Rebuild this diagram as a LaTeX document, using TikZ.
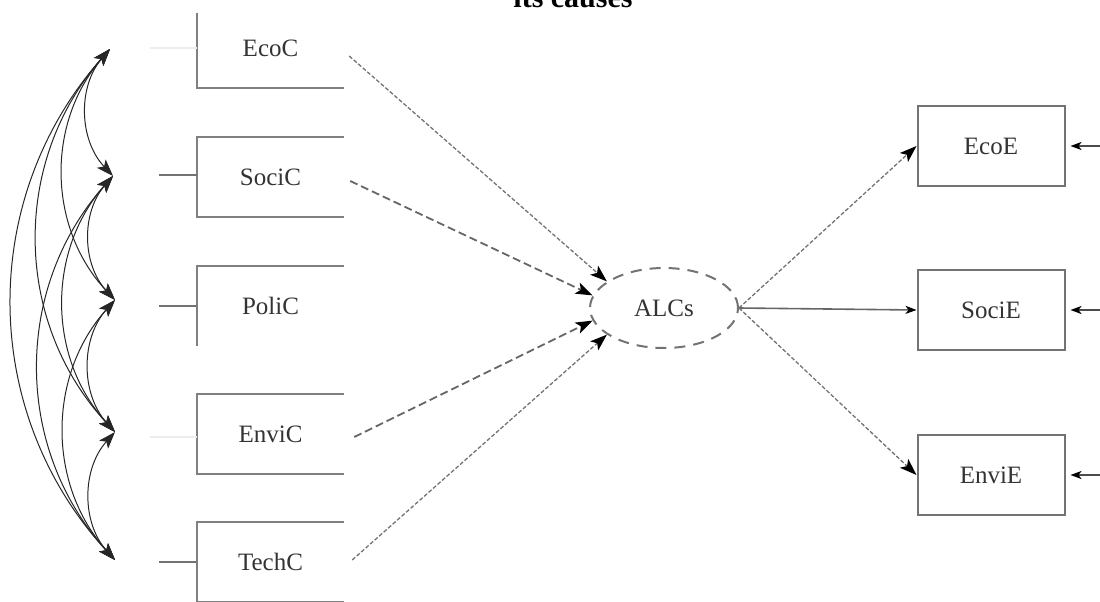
\documentclass[tikz,border=0pt]{standalone}
\usepackage{fontspec}
\setmainfont{Liberation Serif}
\usetikzlibrary{arrows.meta,calc,shapes.geometric}
\begin{document}
\begin{tikzpicture}[x=1pt,y=-1pt,
  tipbig/.tip={Stealth[length=17pt,width=12pt,inset=4pt]},
  tipsmall/.tip={Stealth[length=11pt,width=8pt,inset=3pt]},
  boxline/.style={draw=black!50,line width=2pt},
  lbl/.style={font=\fontsize{25}{27}\selectfont,text=black!80},
  vbox/.style={minimum width=147pt,minimum height=80pt,inner sep=0pt,lbl},
  rbox/.style={vbox,draw=black!55,line width=2pt},
  stub/.style={draw=black!55,line width=2pt},
  faintstub/.style={draw=black!7,line width=2pt},
  pathd/.style={draw=black!55,line width=1.3pt,dash pattern=on 4pt off 2pt,-{tipbig[black]}},
  pathdd/.style={draw=black!60,line width=1.8pt,dash pattern=on 8pt off 4pt,-{tipbig[black]}},
  paths/.style={draw=black!60,line width=1.6pt,-{tipsmall[black]}},
  err/.style={draw=black!70,line width=1.8pt,-{tipsmall[black]},shorten >=5pt},
  cov/.style={draw=black!85,line width=1pt,{tipbig}-{tipbig}}]
\useasboundingbox (0,0) rectangle (1100,602);
% title (cut at the top, as in the reference)
\node[anchor=base,font=\bfseries\fontsize{30}{32}\selectfont,inner sep=0pt] (title) at (573,8) {its causes};
% left boxes (open on the right)
\node[vbox] (ecoc) at (270.5,48) {EcoC};
\node[vbox] (socic) at (270.5,177) {SociC};
\node[vbox] (polic) at (270.5,306) {PoliC};
\node[vbox] (envic) at (270.5,434) {EnviC};
\node[vbox] (techc) at (270.5,562) {TechC};
\draw[boxline] ($(ecoc.north west)+(0,5)$) -- (ecoc.south west) -- (ecoc.south east);
\draw[boxline] (socic.north east) -- (socic.north west) -- (socic.south west) -- (socic.south east);
\draw[boxline] (polic.north east) -- (polic.north west) -- (polic.south west);
\draw[boxline] (envic.north east) -- (envic.north west) -- (envic.south west) -- (envic.south east);
\draw[boxline] (techc.north east) -- (techc.north west) -- (techc.south west) -- (techc.south east);
% stubs
\coordinate (s1) at (150,48);
\coordinate (s2) at (159,175);
\coordinate (s3) at (159,306);
\coordinate (s4) at (150,437);
\coordinate (s5) at (159,562);
\draw[faintstub] (s1) -- (ecoc.west);
\draw[stub] (s2) -- (socic.west |- s2);
\draw[stub] (s3) -- (polic.west);
\draw[faintstub] (s4) -- (envic.west |- s4);
\draw[stub] (s5) -- (techc.west);
% covariance points
\coordinate (p1) at (110,49);
\coordinate (p2) at (113,176);
\coordinate (p3) at (115,300);
\coordinate (p4) at (115,432);
\coordinate (p5) at (115,560);
\foreach \a/\b in {p1/p2,p1/p3,p1/p4,p1/p5,p2/p3,p2/p4,p2/p5,p3/p4,p3/p5,p4/p5}
  \draw[cov] (\a) to[bend right=42] (\b);
% ellipse
\node[ellipse,draw=black!55,line width=2pt,dash pattern=on 11pt off 8pt,minimum width=148pt,minimum height=80pt,lbl] (alcs) at (664,308) {ALCs};
% paths to ALCs
\draw[pathd] ($(ecoc.east)+(5,8)$) -- (alcs.155);
\draw[pathdd] ($(socic.east)+(6,4)$) -- (alcs.170);
\draw[pathdd] ($(envic.east)+(10,3)$) -- (alcs.190);
\draw[pathd] ($(techc.east)+(8,-2)$) -- (alcs.205);
% right boxes
\node[rbox] (ecoe) at (991,146) {EcoE};
\node[rbox] (socie) at (991,310) {SociE};
\node[rbox] (envie) at (991,475) {EnviE};
\draw[pathd] (alcs.east) -- (ecoe.west);
\draw[paths] (alcs.east) -- (socie.west);
\draw[pathd] (alcs.east) -- (envie.west);
% error terms
\coordinate (e1) at (1100,146);
\coordinate (e2) at (1100,310);
\coordinate (e3) at (1100,475);
\draw[err] (e1) -- (ecoe.east);
\draw[err] (e2) -- (socie.east);
\draw[err] (e3) -- (envie.east);
\end{tikzpicture}
\end{document}
